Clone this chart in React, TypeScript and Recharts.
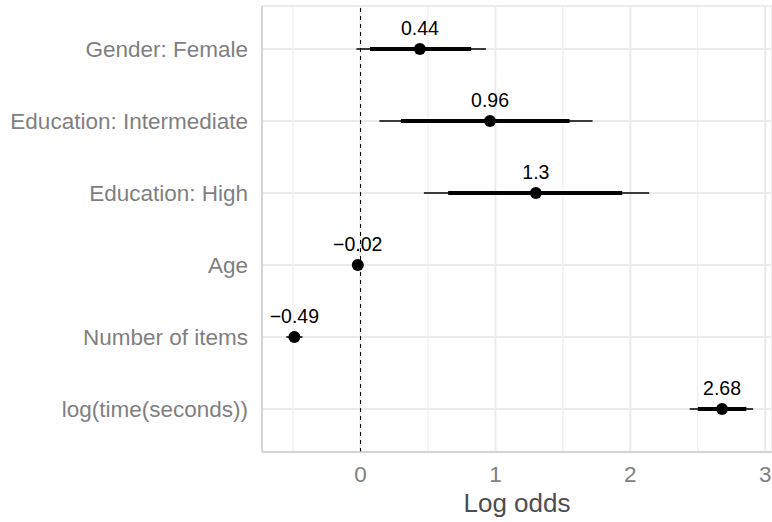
import { ScatterChart, Scatter, XAxis, YAxis, CartesianGrid, ReferenceLine, ErrorBar } from 'recharts';

const terms = [
  'Gender: Female',
  'Education: Intermediate',
  'Education: High',
  'Age',
  'Number of items',
  'log(time(seconds))',
];
const estimates = [0.44, 0.96, 1.3, -0.02, -0.49, 2.68];
const outerLow = [-0.03, 0.14, 0.47, -0.03, -0.55, 2.44];
const outerHigh = [0.93, 1.72, 2.14, -0.01, -0.43, 2.91];
const innerLow = [0.07, 0.3, 0.65, -0.025, -0.53, 2.5];
const innerHigh = [0.82, 1.55, 1.94, -0.015, -0.45, 2.86];

const xTicks = [0, 1, 2, 3];
const minorTicks = [-0.5, 0.5, 1.5, 2.5];

const fmt = (v: number) => String(v).replace('-', '\u2212');

const data = terms.map((term, i) => ({
  term,
  est: estimates[i],
  label: fmt(estimates[i]),
  outer: [estimates[i] - outerLow[i], outerHigh[i] - estimates[i]],
  inner: [estimates[i] - innerLow[i], innerHigh[i] - estimates[i]],
}));

const PointWithLabel = (props: any) => {
  const { cx, cy, payload } = props;
  return (
    <g>
      <circle cx={cx} cy={cy} r={6} fill="#000" />
      <text x={cx} y={cy - 14} textAnchor="middle" fontSize={19.5} fill="#000">
        {payload.label}
      </text>
    </g>
  );
};

const CoefficientPlot = () => {
  return (
    <div style={{ position: 'absolute', left: 0, top: 0, fontFamily: '"Liberation Sans", Arial, sans-serif' }}>
      <ScatterChart width={772} height={522} margin={{ top: 6, right: 0, bottom: 0, left: 0 }}>
        <CartesianGrid stroke="#EBEBEB" strokeWidth={2} />
        {minorTicks.map((t) => (
          <ReferenceLine key={t} x={t} stroke="#EBEBEB" strokeWidth={1} />
        ))}
        <XAxis
          dataKey="est"
          type="number"
          domain={[-0.73, 3.05]}
          allowDataOverflow
          ticks={xTicks}
          height={70}
          tickLine={false}
          tickSize={6}
          tickMargin={8}
          axisLine={{ stroke: '#CCCCCC', strokeWidth: 1.5 }}
          tick={{ fontSize: 22.5, fill: '#7F7F7F' }}
          label={{ value: 'Log odds', position: 'insideBottom', offset: 10, fontSize: 26, fill: '#4D4D4D' }}
        />
        <YAxis
          dataKey="term"
          type="category"
          reversed
          width={262}
          padding={{ top: 7, bottom: 7 }}
          tickLine={false}
          tickSize={6}
          tickMargin={8}
          axisLine={{ stroke: '#CCCCCC', strokeWidth: 1.5 }}
          tick={{ fontSize: 22.5, fill: '#7F7F7F' }}
        />
        <ReferenceLine x={0} stroke="#000" strokeDasharray="4 4" strokeWidth={1} />
        <Scatter data={data} isAnimationActive={false} shape={PointWithLabel}>
          <ErrorBar dataKey="outer" direction="x" width={0} stroke="#000" strokeWidth={1.5} isAnimationActive={false} />
          <ErrorBar dataKey="inner" direction="x" width={0} stroke="#000" strokeWidth={4} isAnimationActive={false} />
        </Scatter>
      </ScatterChart>
    </div>
  );
};

export default CoefficientPlot;
